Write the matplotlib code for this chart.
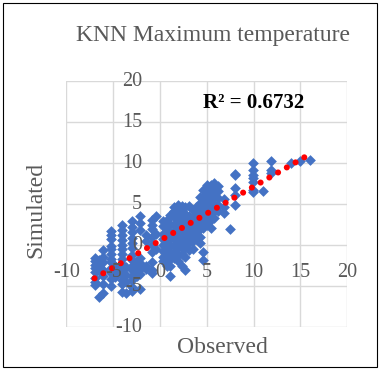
import matplotlib.pyplot as plt
from matplotlib.patches import Rectangle
import numpy as np

obs_cols = [-7.0, -6.5, -6.1, -5.2, -4.8, -4.1, -3.6, -3.0, -2.5, -2.1, -1.5, -0.9, -0.4,
            0.3, 0.7, 1.1, 1.5, 1.9, 2.3, 2.7, 3.1, 3.5, 3.9, 4.3, 4.6, 5.0, 5.4, 5.8,
            6.2, 6.8, 7.5, 8.0, 9.9, 11.0, 11.9, 14.0, 15.0, 16.0]
sim_cols = [
    [-1.6, -2.0, -2.4, -2.8, -3.3, -4.0, -4.5, -4.9],
    [-1.8, -2.5, -3.2, -6.3],
    [-0.6, -1.5, -2.1, -3.0, -3.8, -4.7, -5.8],
    [1.7, 1.2, 0.7, -0.1, -0.5, -1.1, -1.7, -2.1, -2.8, -3.4, -4.1, -5.0],
    [-2.5, -3.3, -3.9],
    [2.4, 1.8, 1.2, 0.6, 0.0, -0.5, -1.1, -1.7, -2.3, -2.9, -3.5, -4.2, -4.8, -5.7],
    [-2.7, -3.7, -4.5, -5.9],
    [2.9, 2.2, 1.6, 0.9, 0.2, -0.4, -1.2, -1.8, -2.5, -3.1, -3.8, -4.3, -5.1, -5.6],
    [-2.0, -2.7, -3.3, -3.8],
    [3.5, 2.7, 1.8, -1.6, -2.2, -2.9, -3.5, -5.4],
    [1.2, 0.5, -2.5, -2.9],
    [3.1, 2.5, 1.9, 1.0, 0.0, -0.9, -2.1, -3.0, -3.4],
    [3.6, 1.3, -0.5],
    [2.9, 2.3, 1.4, 0.7, 0.0, -0.7, -1.4, -1.9],
    [3.1, 1.9, 1.0, 0.2, -0.5, -1.3, -2.1, -2.6],
    [3.7, 2.6, 1.5, 0.7, -0.1, -1.0, -1.7, -2.5, -3.8],
    [4.6, 4.2, 3.4, 2.5, 1.7, 0.9, 0.0, -0.9, -1.6],
    [4.9, 4.5, 3.6, 2.9, 2.1, 1.3, 0.5, -0.4, -1.2, -2.0],
    [4.8, 4.1, 3.2, 2.4, 1.6, 0.8, -0.1, -1.1, -2.6],
    [4.6, 3.8, 2.9, 2.1, 1.3, 0.6, -0.3, -1.4, -3.1],
    [4.8, 3.5, 2.7, 2.0, 1.1, 0.3, -0.6],
    [4.3, 3.4, 2.6, 1.9, 1.2, 0.5, -0.5],
    [4.7, 3.8, 3.1, 2.3, 1.6, 0.8],
    [5.8, 5.1, 4.3, 3.5, 2.7, 1.9, 1.0, 0.3],
    [6.7, 5.9, 5.2, 4.4, 3.7, 2.9, 2.1, -0.8, -1.8],
    [7.3, 6.8, 6.3, 5.5, 4.8, 4.0, 3.2, 2.4],
    [7.3, 6.8, 6.1, 5.3, 4.5, 3.8, 3.0, 2.1],
    [7.6, 7.1, 6.5, 5.8, 5.0, 4.2, 3.3],
    [7.2, 6.6, 5.7, 4.9, 4.1],
    [5.6, 4.6, 3.9],
    [2.0],
    [8.7, 8.5, 6.9, 6.1, 4.9],
    [10.0, 9.2, 8.6, 8.2, 7.7, 6.7, 6.5],
    [6.6],
    [10.3, 9.2, 8.8],
    [10.0],
    [10.3],
    [10.4],
]
ticks = [-10, -5, 0, 5, 10, 15, 20]
r2_text = "R² = 0.6732"

observed = np.concatenate([[o] * len(s) for o, s in zip(obs_cols, sim_cols)])
simulated = np.concatenate(sim_cols)

serif = "Liberation Serif"
grey = "#595959"
gridc = "#D9D9D9"

fig = plt.figure(figsize=(3.81, 3.70), dpi=100)
ax = fig.add_axes([0.1745, 0.116, 0.7365, 0.665])

ax.set_xlim(-10, 20)
ax.set_ylim(-10, 20)
for t in ticks:
    ax.axvline(t, color=gridc, lw=1, zorder=0)
    ax.axhline(t, color=gridc, lw=1, zorder=0)
for s in ax.spines.values():
    s.set_visible(False)
ax.set_xticks([])
ax.set_yticks([])

ax.scatter(observed, simulated, marker="D", s=30, color="#4472C4", lw=0, zorder=2)

# linear trendline
k, b = np.polyfit(observed, simulated, 1)
xs = np.array([observed.min(), observed.max()])
ax.plot(xs, k * xs + b, color="red", lw=4.4, linestyle=(0, (0.001, 1.65)),
        dash_capstyle="round", zorder=3)

# tick labels drawn where the axes cross (Excel style)
for t in ticks:
    ax.annotate(str(t), (t, 0), xytext=(0, -13), textcoords="offset points",
                ha="center", va="top", fontsize=14.5, color=grey, family=serif)
    ax.annotate(str(t), (0, t), xytext=(-13, 0), textcoords="offset points",
                ha="right", va="center", fontsize=14.5, color=grey, family=serif)

ax.text(4.6, 17.3, r2_text, fontsize=15, fontweight="bold", family=serif,
        va="center", ha="left")

fig.text(0.56, 0.903, "KNN Maximum temperature", ha="center", va="center",
         fontsize=17, color=grey, family=serif)
fig.text(0.094, 0.432, "Simulated", rotation=90, ha="center", va="center",
         fontsize=17, color=grey, family=serif)
fig.text(0.583, 0.062, "Observed", ha="center", va="center",
         fontsize=17, color=grey, family=serif)

fig.patches.append(Rectangle((0.008, 0.008), 0.982, 0.984, transform=fig.transFigure,
                             fill=False, edgecolor="black", lw=0.8))

fig.savefig("out.png", dpi=100)
